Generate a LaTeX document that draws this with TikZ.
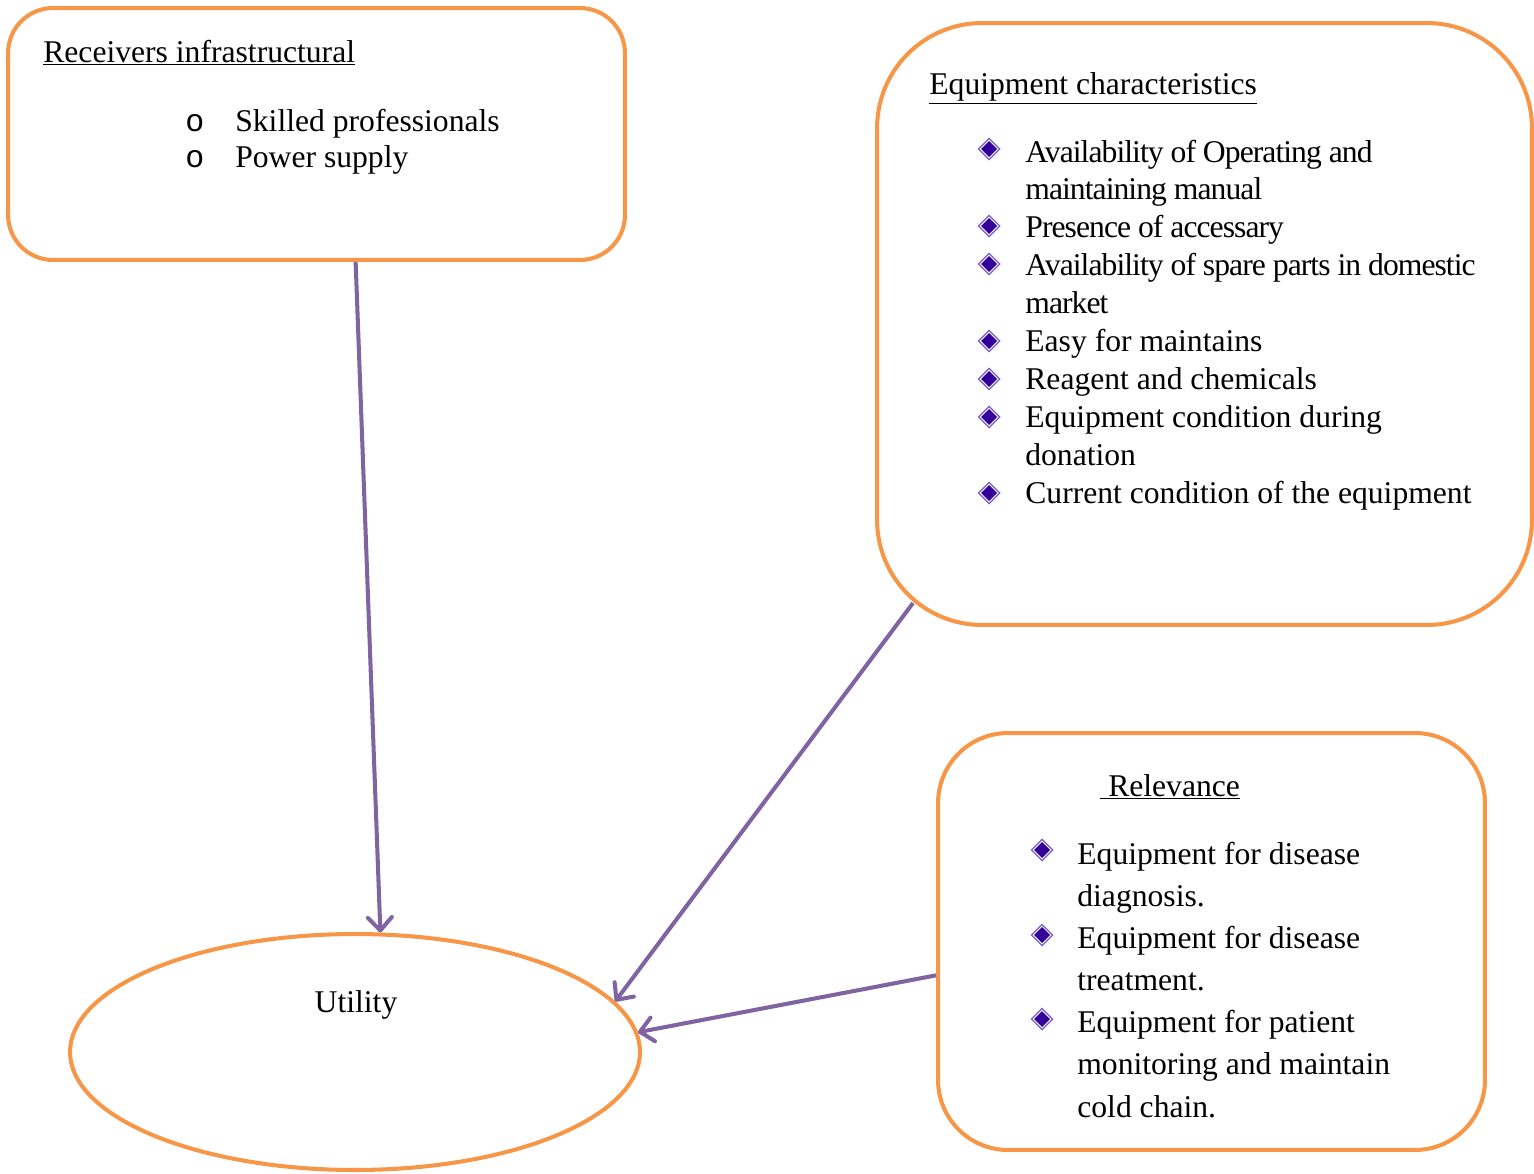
\documentclass[tikz,border=0pt]{standalone}
\usepackage{fontspec}
\setmainfont{Liberation Serif}
\newfontfamily\ringfont{Liberation Mono}
\usetikzlibrary{shapes.geometric, arrows.meta}
\definecolor{boxorange}{HTML}{F79646}
\definecolor{arrowpurple}{HTML}{8064A2}
\definecolor{dmdfill}{HTML}{330099}
\definecolor{dmdedge}{HTML}{7B5CD6}
\newcommand{\ringbullet}{{\ringfont o}}
\newcommand{\tightline}[1]{{\addfontfeature{LetterSpace=-3}#1}}
\tikzset{
  pics/dmdmark/.style={code={
    \fill[dmdedge] (0cm,0.23cm) -- (0.23cm,0cm) -- (0cm,-0.23cm) -- (-0.23cm,0cm) -- cycle;
    \fill[white] (0cm,0.19cm) -- (0.19cm,0cm) -- (0cm,-0.19cm) -- (-0.19cm,0cm) -- cycle;
    \fill[dmdfill] (0cm,0.16cm) -- (0.16cm,0cm) -- (0cm,-0.16cm) -- (-0.16cm,0cm) -- cycle;
  }}
}

\begin{document}
\begin{tikzpicture}[x=0.02cm, y=-0.02cm,
  every node/.style={inner sep=0pt, font=\fontsize{18}{21.6}\selectfont},
  box/.style={draw=boxorange, line width=2.3pt, rectangle},
  arr/.style={draw=arrowpurple, line width=2.3pt,
    -{Straight Barb[length=2.6mm, width=4.8mm, round]}}]
  % \draw[help lines] (0,0) grid[step=100] (1534,1173);
  \useasboundingbox (0,0) rectangle (1534,1173);
  \node at (316.5,134) [box, rounded corners=0.9cm, minimum width=12.34cm,
  minimum height=5.04cm] (recv) {};
  \node at (1204.5,324) [box, rounded corners=2.1cm, minimum width=13.1cm,
  minimum height=12.04cm] (equip) {};
  \node at (1211.5,941.5) [box, rounded corners=1.4cm, minimum width=10.94cm,
  minimum height=8.34cm] (rel) {};
  \node at (355,1052) [box, ellipse, minimum width=11.4cm, minimum height=4.72cm]
  (util) {};

  \node at (43,62) [anchor=base west] (recvtitle) {\underline{Receivers infrastructural}};
  \node at (185,131) [anchor=base west, font=\fontsize{18}{21}\selectfont] (recvlist)
  {\begin{tabular}[t]{@{}l@{\hspace{0.62cm}}l@{}}
    \ringbullet & Skilled professionals\\
    \ringbullet & Power supply
  \end{tabular}};
  \node at (929,94) [anchor=base west] (equiptitle) {\underline{Equipment characteristics}};
  \node at (1025,162) [anchor=base west] (equiplist)
  {\begin{tabular}[t]{@{}l@{}}
    \tightline{Availability of Operating and}\\
    \tightline{maintaining manual}\\
    \tightline{Presence of accessary}\\
    \tightline{Availability of spare parts in domestic}\\
    \tightline{market}\\
    Easy for maintains\\
    Reagent and chemicals\\
    Equipment condition during\\
    donation\\
    Current condition of the equipment
  \end{tabular}};
  \foreach \y in {149, 226, 264, 341, 379, 417, 493}
    \pic at (989,\y) {dmdmark};
  \node at (1100,796) [anchor=base west] (reltitle) {\underline{\ Relevance}};
  \node at (1077,864) [anchor=base west, font=\fontsize{18}{24}\selectfont] (rellist)
  {\begin{tabular}[t]{@{}l@{}}
    Equipment for disease\\
    diagnosis.\\
    Equipment for disease\\
    treatment.\\
    Equipment for patient\\
    monitoring and maintain\\
    cold chain.
  \end{tabular}};
  \foreach \y in {850, 935, 1019}
    \pic at (1042,\y) {dmdmark};
  \node at (356,1012) [anchor=base] (utiltxt) {Utility};

  \coordinate (eqcorner) at (913,603);
  \draw[arr] (recv.-73) -- (util.78);
  \draw[arr] (eqcorner) -- (util.11.5);
  \draw[arr] (rel.187.6) -- (util.4);
\end{tikzpicture}
\end{document}
